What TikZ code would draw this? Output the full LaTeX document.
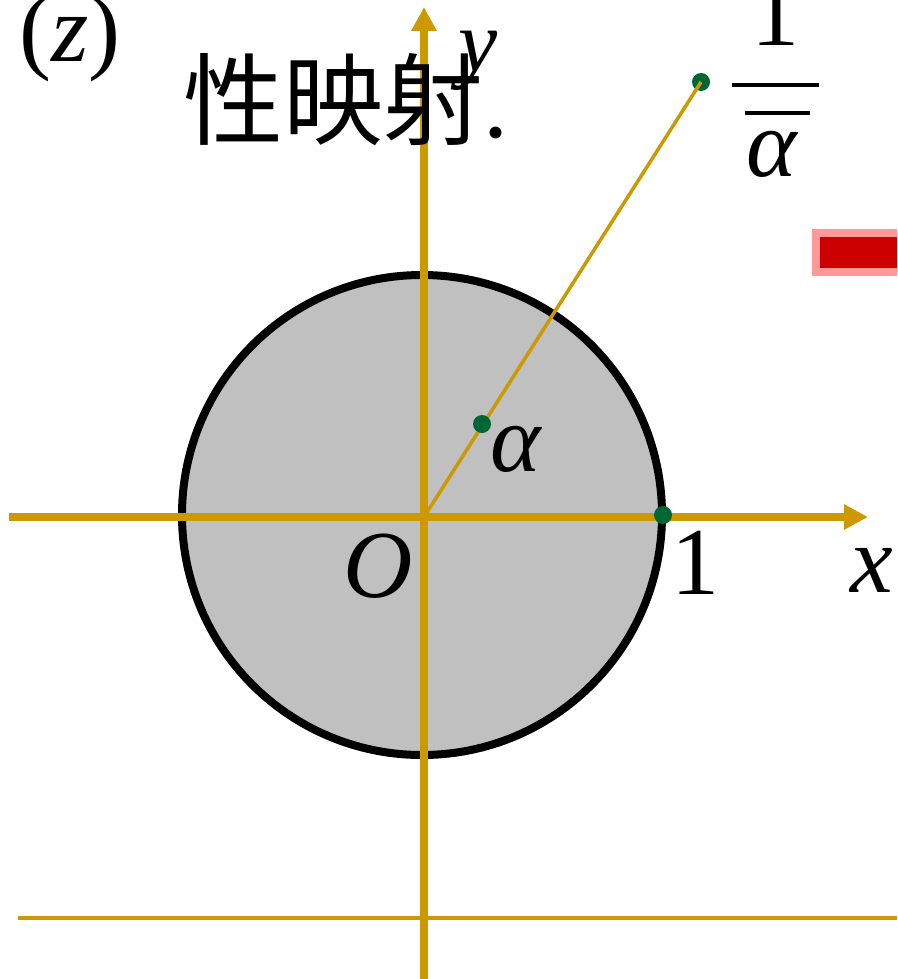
\documentclass[tikz,border=0pt]{standalone}
\usepackage{fontspec}
\setmainfont{Liberation Serif}
\newfontfamily\cjk{Noto Sans CJK SC}
\usetikzlibrary{arrows.meta}

\definecolor{axisgold}{RGB}{204,153,0}
\definecolor{dotgreen}{RGB}{0,102,51}
\definecolor{diskgray}{RGB}{192,192,192}
\definecolor{markred}{RGB}{204,0,0}
\definecolor{markpink}{RGB}{255,153,153}

\tikzset{
  axis/.style={axisgold, line width=8pt, -{Triangle[width=24pt,length=24pt]}},
  ray/.style={axisgold, line width=3.5pt},
  dotpt/.style={circle, fill=dotgreen, inner sep=0pt, minimum size=18pt},
  lbl/.style={inner sep=0pt, font=\fontsize{96}{110}\selectfont\itshape},
  numlbl/.style={inner sep=0pt, font=\fontsize{96}{110}\selectfont},
  bar/.style={black, line width=4pt},
}

\begin{document}
\begin{tikzpicture}[x=1pt,y=-1pt]
    \useasboundingbox (0,0) rectangle (897,979);
    \clip (0,0) rectangle (897,979);

    % unit disk
    \draw[black, line width=8pt, fill=diskgray] (422,515) circle[radius=240];

    % axes
    \coordinate (O) at (424,517);
    \coordinate (xstart) at (9,517);
    \coordinate (xend) at (868,517);
    \coordinate (ystart) at (424,979);
    \coordinate (yend) at (424,7);
    \coordinate (lowleft) at (18,918);
    \coordinate (lowright) at (897,918);
    \draw[axisgold, line width=4pt] (lowleft) -- (lowright);
    \draw[axis] (xstart) -- (xend);
    \draw[axis] (ystart) -- (yend);

    % alpha and its reflection
    \node[dotpt] (abar) at (701,82) {};
    \draw[ray] (O) -- (abar.center);
    \node[dotpt] (a) at (482,424) {};
    \node[dotpt] (one) at (663,515) {};

    % labels
    \node[numlbl, anchor=base west] (zlbl) at (19,62) {(\textit{z})};
    \node[inner sep=0pt, anchor=base west, font=\fontsize{100}{110}\selectfont] (title) at (183,138) {{\cjk 性映射}.};
    \node[lbl, font=\fontsize{88}{100}\selectfont\itshape] (ylbl) at (478,61) {y};
    \node[lbl] (albl) at (516,449) {α};
    \node[lbl] (Olbl) at (378,566) {O};
    \node[numlbl] (onelbl) at (695,563) {1};
    \node[lbl] (xlbl) at (872,570) {x};

    % 1 over conjugate alpha
    \node[numlbl, anchor=base] (invnum) at (775,46) {1};
    \node[lbl, anchor=base] (invden) at (772,176) {α};
    \coordinate (barl) at (732,85);
    \coordinate (barr) at (819,85);
    \coordinate (ovl) at (745,113);
    \coordinate (ovr) at (810,113);
    \draw[bar] (barl) -- (barr);
    \draw[bar] (ovl) -- (ovr);

    % red marker at the edge
    \draw[markpink, line width=8pt, fill=markred] (816,233) rectangle (910,272);
\end{tikzpicture}
\end{document}
